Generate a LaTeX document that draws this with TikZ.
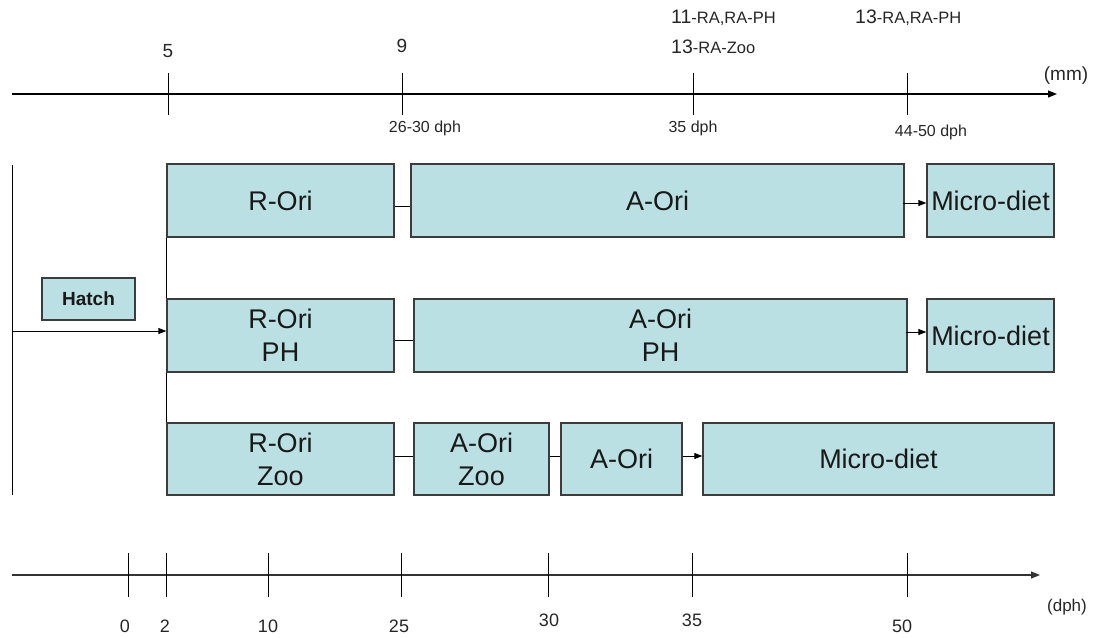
\documentclass[tikz,border=0pt]{standalone}
\usepackage{fontspec}
\setmainfont{Liberation Sans}
\usetikzlibrary{arrows.meta}
\definecolor{boxfill}{RGB}{187,224,227}
\definecolor{boxline}{RGB}{60,60,60}
\newcommand{\fs}[1]{\fontsize{#1}{#1}\selectfont}
\tikzset{
  stage/.style={draw=boxline, line width=1.3pt, fill=boxfill, inner sep=0pt,
    align=center, font=\fs{27}, text=black!90},
  axisline/.style={line width=1.1pt, -{Triangle[length=9pt,width=7pt]}},
  tickline/.style={line width=1pt},
  link/.style={line width=1pt},
  flow/.style={line width=1pt, -{Triangle[length=8pt,width=6pt]}},
  lbl/.style={inner sep=0pt, text=black!85}
}
\begin{document}
\begin{tikzpicture}[x=1pt,y=-1pt]
\path[use as bounding box] (0,0) rectangle (1097,637);

% ---- length axis (mm) ----
\coordinate (ta0) at (12,94);
\coordinate (ta1) at (1057,94);
\draw[axisline] (ta0) -- (ta1);
\foreach \n/\x in {t5/168, t9/402, t11/693, t13/907}{
  \coordinate (\n a) at (\x,73);
  \coordinate (\n b) at (\x,115);
  \draw[tickline] (\n a) -- (\n b);
}
\node[lbl, font=\fs{19}] (l5) at (168,51) {5};
\node[lbl, font=\fs{19}] (l9) at (402,46) {9};
\node[lbl, anchor=west] (l11) at (671,18) {{\fs{19.5}11}{\fs{16.5}-RA,RA-PH}};
\node[lbl, anchor=west] (l13z) at (671,47) {{\fs{19.5}13}{\fs{16.5}-RA-Zoo}};
\node[lbl, anchor=west] (l13) at (855,18) {{\fs{19.5}13}{\fs{16.5}-RA,RA-PH}};
\node[lbl, font=\fs{19}] (mm) at (1066,76) {(mm)};
\node[lbl, font=\fs{16}] (d26) at (425,128) {26-30 dph};
\node[lbl, font=\fs{16}] (d35) at (693,128) {35 dph};
\node[lbl, font=\fs{16}] (d44) at (931,132) {44-50 dph};

% ---- rearing stages ----
\node[stage, minimum width=227pt, minimum height=73pt] (r1) at (280.5,200.5) {R-Ori};
\node[stage, minimum width=493pt, minimum height=73pt] (a1) at (657.5,200.5) {A-Ori};
\node[stage, minimum width=127pt, minimum height=73pt] (m1) at (990.5,200.5) {Micro-diet};

\node[stage, minimum width=227pt, minimum height=73pt] (r2) at (280.5,335.5) {R-Ori\\[6pt]PH};
\node[stage, minimum width=493pt, minimum height=73pt] (a2) at (660.5,335.5) {A-Ori\\[6pt]PH};
\node[stage, minimum width=127pt, minimum height=73pt] (m2) at (990.5,335.5) {Micro-diet};

\node[stage, minimum width=227pt, minimum height=72pt] (r3) at (280.5,459) {R-Ori\\[6pt]Zoo};
\node[stage, minimum width=135pt, minimum height=72pt] (az3) at (481.5,459) {A-Ori\\[6pt]Zoo};
\node[stage, minimum width=121pt, minimum height=72pt] (ao3) at (621.5,459) {A-Ori};
\node[stage, minimum width=351pt, minimum height=72pt] (m3) at (878.5,459) {Micro-diet};

\node[stage, font=\fs{19}\bfseries, line width=1.1pt, minimum width=93pt, minimum height=42pt] (hatch) at (88.5,299) {Hatch};

% connectors between stages
\draw[link] ([yshift=-5.5pt]r1.east) -- ([yshift=-5.5pt]a1.west);
\draw[link] ([yshift=-4.5pt]r2.east) -- ([yshift=-4.5pt]a2.west);
\draw[link] ([yshift=3pt]r3.east) -- ([yshift=3pt]az3.west);
\draw[link] ([yshift=3pt]az3.east) -- ([yshift=3pt]ao3.west);
\draw[flow] ([yshift=-2.5pt,xshift=-2pt]a1.east) -- ([yshift=-2.5pt]m1.west);
\draw[flow] ([yshift=3.5pt,xshift=-2pt]a2.east) -- ([yshift=3.5pt]m2.west);
\draw[flow] ([yshift=3pt]ao3.east) -- ([yshift=3pt]m3.west);

% branching from hatching
\coordinate (v0) at (12,165);
\coordinate (v1) at (12,495);
\draw[link] (v0) -- (v1);
\coordinate (hin) at (12,331);
\draw[flow] (hin) -- (hin -| r2.west);
\draw[link] (r1.south west) -- (r2.north west);
\draw[link] (r2.south west) -- (r3.north west);

% ---- age axis (dph) ----
\coordinate (ba0) at (12,575);
\coordinate (ba1) at (1040,575);
\draw[axisline, draw=black!80] (ba0) -- (ba1);
\foreach \n/\x in {b0/128, b2/166, b10/268, b25/401, b30/548, b35/692, b50/907}{
  \coordinate (\n a) at (\x,553);
  \coordinate (\n b) at (\x,597);
  \draw[tickline] (\n a) -- (\n b);
}
\node[lbl, font=\fs{18}] (n0) at (125,626) {0};
\node[lbl, font=\fs{18}] (n2) at (165,626) {2};
\node[lbl, font=\fs{18}] (n10) at (268,626) {10};
\node[lbl, font=\fs{18}] (n25) at (399,626) {25};
\node[lbl, font=\fs{18}] (n30) at (549,620) {30};
\node[lbl, font=\fs{18}] (n35) at (692,620) {35};
\node[lbl, font=\fs{18}] (n50) at (902,626) {50};
\node[lbl, font=\fs{17}] (dph) at (1067,607) {(dph)};
\end{tikzpicture}
\end{document}
